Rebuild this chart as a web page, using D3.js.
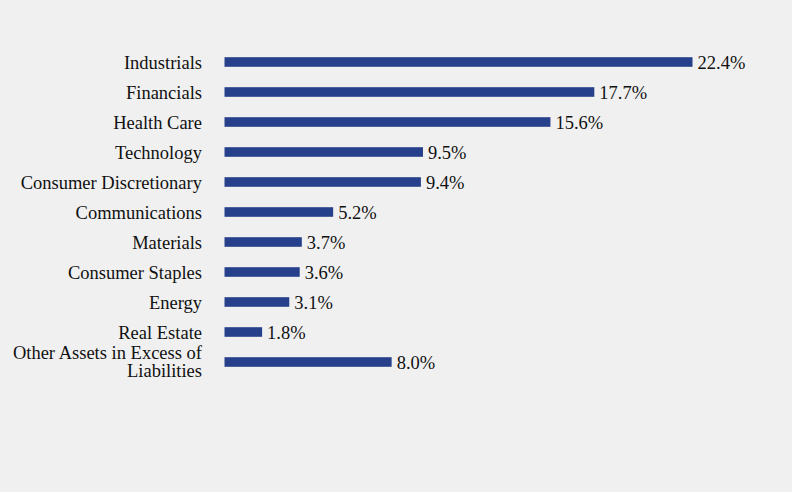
<!DOCTYPE html>
<html><head><meta charset="utf-8">
<script src="https://cdn.jsdelivr.net/npm/d3@7"></script>
<style>html,body{margin:0;padding:0;background:#f0f0f0;}svg{display:block;}</style>
</head><body>
<svg id="c" width="792" height="492"></svg>
<script>
const categories = ["Industrials","Financials","Health Care","Technology","Consumer Discretionary","Communications","Materials","Consumer Staples","Energy","Real Estate","Other Assets in Excess of\nLiabilities"];
const values = [22.4,17.7,15.6,9.5,9.4,5.2,3.7,3.6,3.1,1.8,8.0];
const valueLabels = ["22.4%","17.7%","15.6%","9.5%","9.4%","5.2%","3.7%","3.6%","3.1%","1.8%","8.0%"];

const svg = d3.select("#c");
svg.append("rect").attr("width",792).attr("height",492).attr("fill","#f0f0f0");
const x0 = 224.5;
const x = d3.scaleLinear().domain([0,22.4]).range([x0, 692.5]);
const y = d3.scaleBand().domain(categories).range([47,377]).paddingInner(0.68).paddingOuter(0.34);
const font = "'Liberation Serif','Times New Roman',serif";
const fs = 18.5;

svg.selectAll("rect.bar").data(categories).join("rect").attr("class","bar")
  .attr("x",x(0)).attr("y",d=>y(d)).attr("height",y.bandwidth())
  .attr("width",(d,i)=>x(values[i])-x(0)).attr("fill","#27408b");

svg.selectAll("text.val").data(categories).join("text").attr("class","val")
  .attr("x",(d,i)=>x(values[i])+5).attr("y",d=>y(d)+y.bandwidth()/2).attr("dy","0.38em")
  .attr("font-family",font).attr("font-size",fs).attr("fill","#111")
  .text((d,i)=>valueLabels[i]);

const lab = svg.selectAll("text.cat").data(categories).join("text").attr("class","cat")
  .attr("text-anchor","end").attr("font-family",font).attr("font-size",fs).attr("fill","#111")
  .attr("y",d=>y(d)+y.bandwidth()/2);
lab.each(function(d){
  const lines = d.split("\n");
  const t = d3.select(this);
  lines.forEach((l,k)=>{
    t.append("tspan").attr("x",202).attr("dy", k===0 ? (lines.length>1 ? "-0.16em" : "0.38em") : "0.99em").text(l);
  });
});
</script>
</body></html>
